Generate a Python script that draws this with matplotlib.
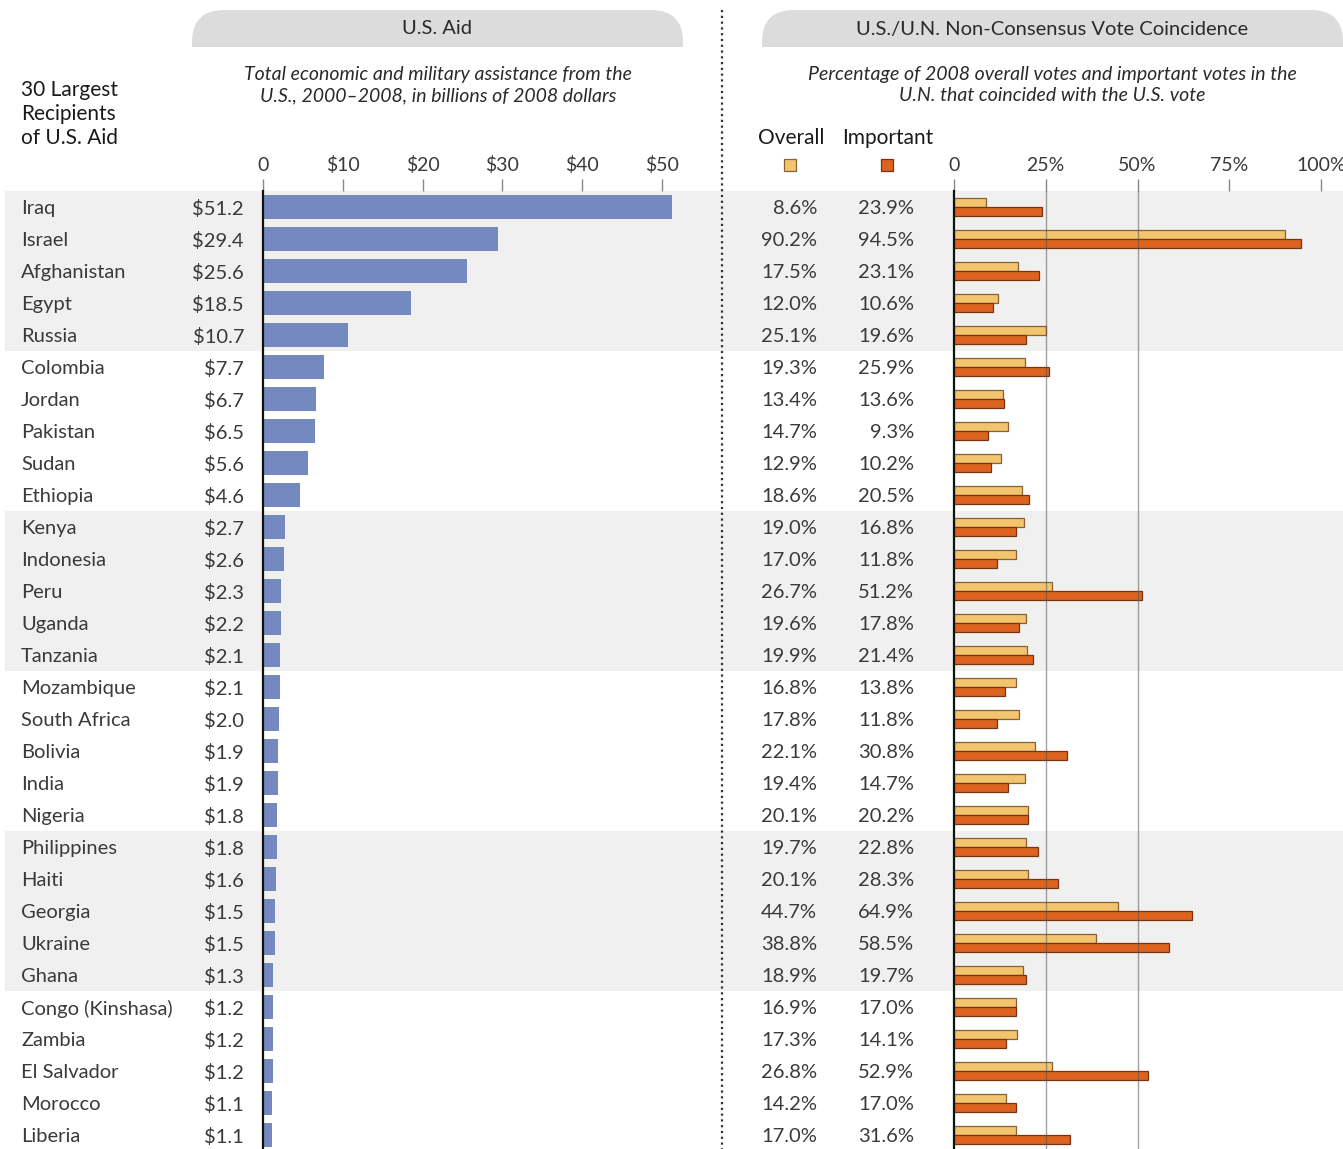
import matplotlib
matplotlib.use("Agg")
import matplotlib.pyplot as plt
from matplotlib import patches, transforms

countries = ["Iraq", "Israel", "Afghanistan", "Egypt", "Russia", "Colombia", "Jordan",
             "Pakistan", "Sudan", "Ethiopia", "Kenya", "Indonesia", "Peru", "Uganda",
             "Tanzania", "Mozambique", "South Africa", "Bolivia", "India", "Nigeria",
             "Philippines", "Haiti", "Georgia", "Ukraine", "Ghana", "Congo (Kinshasa)",
             "Zambia", "El Salvador", "Morocco", "Liberia"]
aid = [51.2, 29.4, 25.6, 18.5, 10.7, 7.7, 6.7, 6.5, 5.6, 4.6, 2.7, 2.6, 2.3, 2.2, 2.1,
       2.1, 2.0, 1.9, 1.9, 1.8, 1.8, 1.6, 1.5, 1.5, 1.3, 1.2, 1.2, 1.2, 1.1, 1.1]
overall = [8.6, 90.2, 17.5, 12.0, 25.1, 19.3, 13.4, 14.7, 12.9, 18.6, 19.0, 17.0, 26.7,
           19.6, 19.9, 16.8, 17.8, 22.1, 19.4, 20.1, 19.7, 20.1, 44.7, 38.8, 18.9, 16.9,
           17.3, 26.8, 14.2, 17.0]
important = [23.9, 94.5, 23.1, 10.6, 19.6, 25.9, 13.6, 9.3, 10.2, 20.5, 16.8, 11.8, 51.2,
             17.8, 21.4, 13.8, 11.8, 30.8, 14.7, 20.2, 22.8, 28.3, 64.9, 58.5, 19.7, 17.0,
             14.1, 52.9, 17.0, 31.6]
aid_ticks = [0, 10, 20, 30, 40, 50]
aid_tick_labels = ["0", "$10", "$20", "$30", "$40", "$50"]
pct_ticks = [0, 25, 50, 75, 100]
pct_tick_labels = ["0", "25%", "50%", "75%", "100%"]

W, H = 1343, 1149
FONT = ["Lato", "DejaVu Sans"]
TXT = "#3a3a3a"
plt.rcParams["font.family"] = FONT

BLUE = "#7489bf"
LIGHT = "#f2c46f"
DARK = "#dc6420"
BAND = "#f0f0f0"

fig = plt.figure(figsize=(W / 100, H / 100), dpi=100)

# pixel-coordinate background axes
ax_px = fig.add_axes([0, 0, 1, 1], zorder=0)
ax_px.set_xlim(0, W)
ax_px.set_ylim(H, 0)
ax_px.axis("off")

rows_top, row_h = 191, 32
n = len(countries)
bottom = (H - rows_top - n * row_h) / H
height = n * row_h / H


def bar_axes(x0, x1, xmax):
    ax = fig.add_axes([x0 / W, bottom, (x1 - x0) / W, height], zorder=1)
    ax.set_facecolor("none")
    ax.set_xlim(0, xmax)
    ax.set_ylim(n - 0.5, -0.5)
    for s in ["top", "right", "bottom"]:
        ax.spines[s].set_visible(False)
    ax.spines["left"].set_color("#111111")
    ax.spines["left"].set_linewidth(1.6)
    ax.set_yticks([])
    ax.xaxis.tick_top()
    ax.tick_params(axis="x", length=9, width=1, color="#888888", pad=3,
                   labelsize=14, labelcolor=TXT)
    return ax


# left: aid
ax_l = bar_axes(263, 720, (720 - 263) / 7.98)
ys = list(range(n))
ax_l.barh(ys, aid, height=0.76, color=BLUE, zorder=2)
ax_l.set_xticks(aid_ticks, aid_tick_labels)

# right: vote coincidence
ax_r = bar_axes(954, W, (W - 954) / 3.67)
off = 0.14
ax_r.barh([y - off for y in ys], overall, height=0.29, color=LIGHT,
          edgecolor="#8a6230", linewidth=0.9, zorder=2)
ax_r.barh([y + off for y in ys], important, height=0.29, color=DARK,
          edgecolor="#7a3210", linewidth=0.9, zorder=2)
for g in [25, 50]:
    ax_r.axvline(g, color="#555555", alpha=0.55, lw=1, zorder=3)
ax_r.set_xticks(pct_ticks, pct_tick_labels)

# shaded bands and row labels, x in pixels, y in rows
tr = transforms.blended_transform_factory(ax_px.transData, ax_l.transData)
for start in range(0, n, 10):
    ax_px.add_patch(patches.Rectangle((5, start - 0.5), W - 5, 5, transform=tr,
                                      facecolor=BAND, edgecolor="none", zorder=0))
for i in range(n):
    kw = dict(transform=tr, va="center", fontsize=14.5, color=TXT)
    y = i + 0.06
    ax_px.text(21, y, countries[i], ha="left", **kw)
    ax_px.text(244, y, f"${aid[i]:.1f}", ha="right", **kw)
    ax_px.text(817, y, f"{overall[i]:.1f}%", ha="right", **kw)
    ax_px.text(914, y, f"{important[i]:.1f}%", ha="right", **kw)

# header tabs
for x0, x1, title in [(192, 683, "U.S. Aid"),
                      (762, W, "U.S./U.N. Non-Consensus Vote Coincidence")]:
    tab = patches.FancyBboxPatch((x0, 10), x1 - x0, 70,
                                 boxstyle="round,pad=0,rounding_size=32",
                                 facecolor="#dcdcdc", edgecolor="none", zorder=1)
    ax_px.add_patch(tab)
    clip = patches.Rectangle((x0, 10), x1 - x0, 37, transform=ax_px.transData)
    tab.set_clip_path(clip)
    ax_px.text((x0 + x1) / 2, 29, title, ha="center", va="center", fontsize=14.5,
               color="#2a2a2a", zorder=2)

ax_px.text(438, 85, "Total economic and military assistance from the\n"
           "U.S., 2000\u20132008, in billions of 2008 dollars",
           ha="center", va="center", fontsize=14, style="italic", color="#2a2a2a",
           linespacing=1.3)
ax_px.text(1052, 85, "Percentage of 2008 overall votes and important votes in the\n"
           "U.N. that coincided with the U.S. vote",
           ha="center", va="center", fontsize=14, style="italic", color="#2a2a2a",
           linespacing=1.3)
ax_px.text(21, 114, "30 Largest\nRecipients\nof U.S. Aid", ha="left", va="center",
           fontsize=15, color="#1a1a1a", linespacing=1.25)

# legend
ax_px.text(791, 138, "Overall", ha="center", va="center", fontsize=15, color="#1a1a1a")
ax_px.text(888, 138, "Important", ha="center", va="center", fontsize=15,
           color="#1a1a1a")
ax_px.add_patch(patches.Rectangle((784, 159), 12, 12, facecolor=LIGHT,
                                  edgecolor="#8a6230", lw=0.9))
ax_px.add_patch(patches.Rectangle((881, 159), 12, 12, facecolor=DARK,
                                  edgecolor="#7a3210", lw=0.9))

# dotted divider
ax_px.plot([722, 722], [10, H], ls=(0, (1, 1.6)), color="#333333", lw=1.6, zorder=3)

fig.savefig("out.png", dpi=100)
